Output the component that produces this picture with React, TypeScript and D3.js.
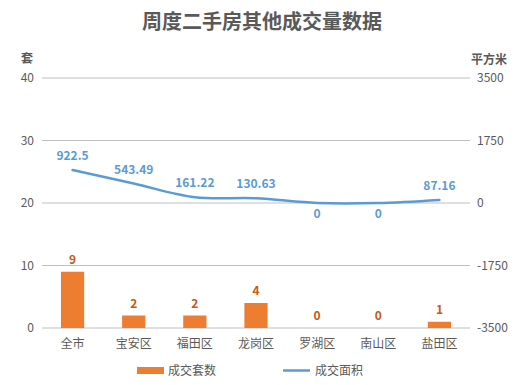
import React from "react";
import * as d3 from "d3";

const categories = ["全市", "宝安区", "福田区", "龙岗区", "罗湖区", "南山区", "盐田区"];
const countValues = [9, 2, 2, 4, 0, 0, 1];
const areaValues = [922.5, 543.49, 161.22, 130.63, 0, 0, 87.16];
const leftTicks = [0, 10, 20, 30, 40];
const rightTicks = [-3500, -1750, 0, 1750, 3500];

const W = 524, H = 385;
const FONT = '"Noto Sans CJK SC", "Microsoft YaHei", sans-serif';

export default function App() {
  const x0 = 42, x1 = 470, yTop = 78, yBot = 328;
  const x = d3.scaleBand().domain(categories).range([x0, x1]).paddingInner(0.62).paddingOuter(0.31);
  const xc = (c: string) => (x(c) as number) + x.bandwidth() / 2;
  const yL = d3.scaleLinear().domain([0, 40]).range([yBot, yTop]);
  const yR = d3.scaleLinear().domain([-3500, 3500]).range([yBot, yTop]);
  const line = d3
    .line<number>()
    .x((_, i) => xc(categories[i]))
    .y((d) => yR(d))
    .curve(d3.curveCatmullRom.alpha(0.5));
  return (
    <svg width={W} height={H} style={{ position: "absolute", left: 0, top: 0, background: "#fff" }} fontFamily={FONT}>
      <text x={262} y={29} textAnchor="middle" fontSize={20} fontWeight="bold" fill="#595959">
        周度二手房其他成交量数据
      </text>
      <text x={27} y={63} textAnchor="middle" fontSize={12} fontWeight="bold" fill="#595959">套</text>
      <text x={507} y={64} textAnchor="end" fontSize={12} fontWeight="bold" fill="#595959">平方米</text>
      {leftTicks.map((t) => (
        <g key={"l" + t}>
          <line x1={x0} x2={x1} y1={yL(t)} y2={yL(t)} stroke="#bfbfbf" strokeWidth={1} />
          <text x={34} y={yL(t) + 4} textAnchor="end" fontSize={12} fill="#595959">{t}</text>
        </g>
      ))}
      {rightTicks.map((t) => (
        <text key={"r" + t} x={477} y={yR(t) + 4} textAnchor="start" fontSize={12} fill="#595959">{t}</text>
      ))}
      {categories.map((c, i) => (
        <g key={c}>
          <rect x={x(c)} y={yL(countValues[i])} width={x.bandwidth()} height={yBot - yL(countValues[i])} fill="#ED7D31" />
          <text x={xc(c)} y={yL(countValues[i]) - 8} textAnchor="middle" fontSize={12} fontWeight="bold" fill="#C55A11">
            {countValues[i]}
          </text>
          <text x={xc(c)} y={yBot + 20} textAnchor="middle" fontSize={12} fill="#595959">{c}</text>
        </g>
      ))}
      <path d={line(areaValues) || ""} fill="none" stroke="#5B9BD5" strokeWidth={2.5} strokeLinecap="round" />
      {categories.map((c, i) => {
        const v = areaValues[i];
        const yy = yR(v);
        const ty = v === 0 ? yy + 15 : yy - 10;
        return (
          <text key={"a" + c} x={xc(c)} y={ty} textAnchor="middle" fontSize={12} fontWeight="bold" fill="#5B9BD5">
            {v}
          </text>
        );
      })}
      <rect x={137} y={367} width={27} height={7} fill="#ED7D31" />
      <text x={168} y={375} fontSize={12} fill="#595959">成交套数</text>
      <line x1={283} x2={310} y1={370.5} y2={370.5} stroke="#5B9BD5" strokeWidth={2.5} />
      <text x={315} y={375} fontSize={12} fill="#595959">成交面积</text>
    </svg>
  );
}
